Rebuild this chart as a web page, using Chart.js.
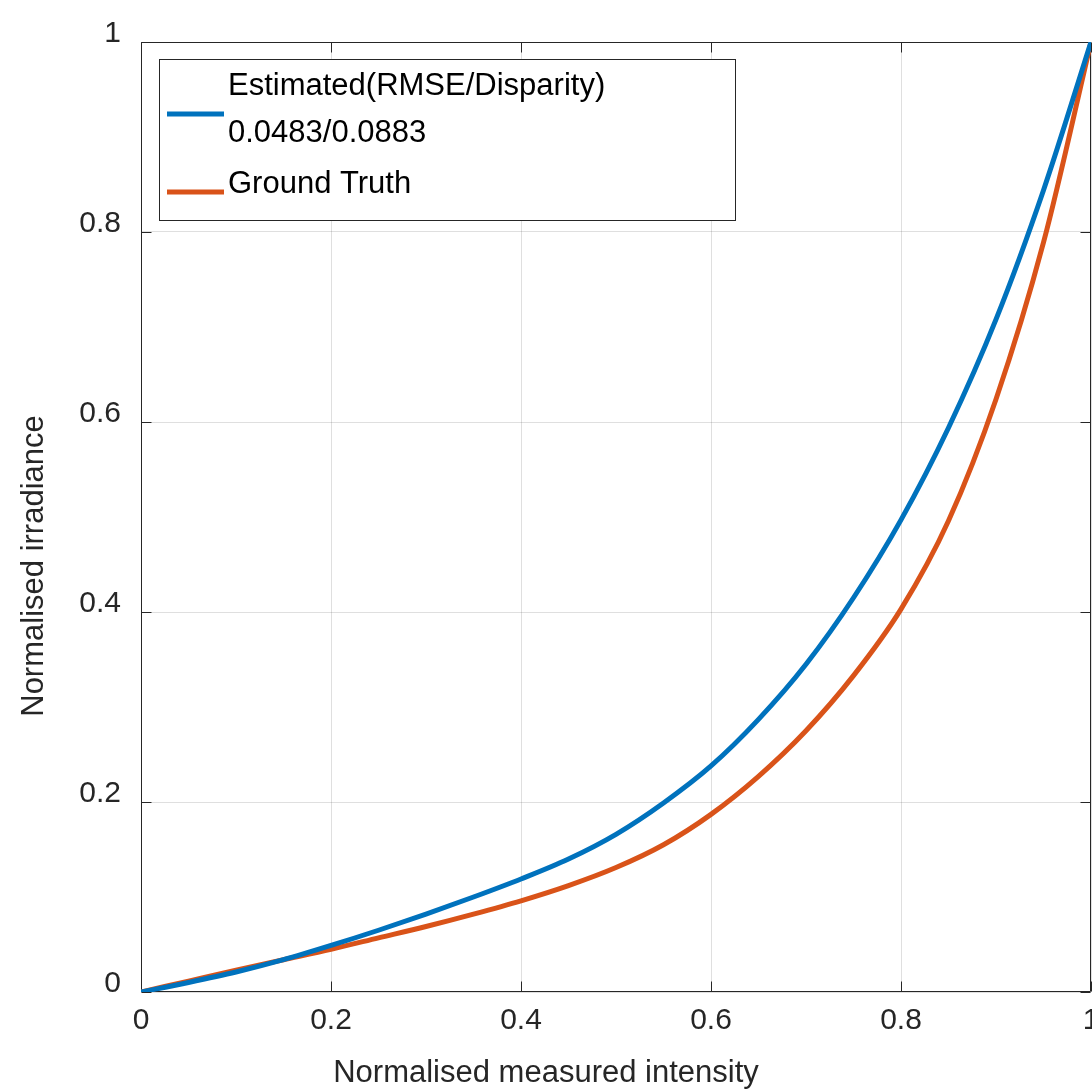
<!DOCTYPE html>
<html>
<head>
<meta charset="utf-8">
<script src="https://cdn.jsdelivr.net/npm/chart.js@4/dist/chart.umd.min.js"></script>
<style>
html,body{margin:0;padding:0;background:#fff;}
canvas{display:block;}
</style>
</head>
<body>
<canvas id="c" width="1092" height="1090"></canvas>
<script>
// ---- data ----
const intensity = [0, 0.05, 0.10, 0.15, 0.20, 0.25, 0.30, 0.35, 0.40, 0.45, 0.50,
                   0.55, 0.60, 0.65, 0.70, 0.75, 0.80, 0.85, 0.90, 0.95, 1.00];
const estimated = [0, 0.010, 0.021, 0.034, 0.049, 0.065, 0.082, 0.100, 0.119, 0.140, 0.166,
                   0.199, 0.238, 0.287, 0.345, 0.415, 0.497, 0.594, 0.708, 0.844, 1];
const groundTruth = [0, 0.0115, 0.023, 0.034, 0.045, 0.057, 0.069, 0.082, 0.096, 0.112, 0.131,
                     0.155, 0.187, 0.227, 0.275, 0.333, 0.403, 0.496, 0.624, 0.789, 1];
const tickValues = [0, 0.2, 0.4, 0.6, 0.8, 1];
const tickLabels = ['0', '0.2', '0.4', '0.6', '0.8', '1'];
const seriesLabels = ['Estimated(RMSE/Disparity)\n0.0483/0.0883', 'Ground Truth'];
const seriesColors = ['#0072BD', '#D95319'];
const xTitle = 'Normalised measured intensity';
const yTitle = 'Normalised irradiance';

const FONT = '"Liberation Sans", Arial, Helvetica, sans-serif';
const AXIS_COLOR = '#262626';
const GRID_COLOR = 'rgba(38,38,38,0.15)';

function toPoints(ys) { return intensity.map((x, i) => ({x: x, y: ys[i]})); }

const setTicks = (scale) => { scale.ticks = tickValues.map(v => ({value: v})); };
const fmt = (value) => { const i = tickValues.indexOf(value); return i >= 0 ? tickLabels[i] : String(value); };

const frame = {
  id: 'frame',
  beforeDatasetsDraw(chart) {
    const {ctx, chartArea: a, scales} = chart;
    ctx.save();
    ctx.strokeStyle = AXIS_COLOR;
    ctx.lineWidth = 1;
    ctx.beginPath();
    const L = Math.round(a.left) + 0.5, R = Math.round(a.right) - 0.5;
    const T = Math.round(a.top) + 0.5, B = Math.round(a.bottom) - 0.5;
    ctx.rect(L, T, R - L, B - T);
    const tl = 10;
    tickValues.forEach(v => {
      const px = Math.round(scales.x.getPixelForValue(v)) + 0.5;
      ctx.moveTo(px, B); ctx.lineTo(px, B - tl);
      ctx.moveTo(px, T); ctx.lineTo(px, T + tl);
      const py = Math.round(scales.y.getPixelForValue(v)) + 0.5;
      ctx.moveTo(L, py); ctx.lineTo(L + tl, py);
      ctx.moveTo(R, py); ctx.lineTo(R - tl, py);
    });
    ctx.stroke();
    ctx.restore();
  },
  afterDraw(chart) {
    const {ctx} = chart;
    ctx.save();
    // axis titles
    ctx.fillStyle = AXIS_COLOR;
    ctx.font = '31px ' + FONT;
    ctx.textAlign = 'center';
    ctx.textBaseline = 'alphabetic';
    ctx.fillText(xTitle, 546, 1082);
    ctx.translate(43, 566);
    ctx.rotate(-Math.PI / 2);
    ctx.fillText(yTitle, 0, 0);
    ctx.restore();

    // legend
    ctx.save();
    const bx = 159.5, by = 59.5, bw = 576, bh = 161;
    ctx.fillStyle = '#ffffff';
    ctx.fillRect(bx, by, bw, bh);
    ctx.strokeStyle = AXIS_COLOR;
    ctx.lineWidth = 1;
    ctx.strokeRect(bx, by, bw, bh);
    const ds = chart.data.datasets;
    const lineY = [114, 192];
    const textY = [[95, 142], [193]];
    ctx.font = '31px ' + FONT;
    ctx.textAlign = 'left';
    ctx.textBaseline = 'alphabetic';
    ds.forEach((d, i) => {
      ctx.strokeStyle = d.borderColor;
      ctx.lineWidth = 5;
      ctx.beginPath();
      ctx.moveTo(167, lineY[i]);
      ctx.lineTo(224, lineY[i]);
      ctx.stroke();
      ctx.fillStyle = '#000000';
      d.label.split('\n').forEach((t, j) => ctx.fillText(t, 228, textY[i][j]));
    });
    ctx.restore();
  }
};

new Chart(document.getElementById('c'), {
  type: 'line',
  data: {
    datasets: [
      {label: seriesLabels[0], data: toPoints(estimated), borderColor: seriesColors[0],
       backgroundColor: seriesColors[0], borderWidth: 5, pointRadius: 0, fill: false,
       cubicInterpolationMode: 'monotone'},
      {label: seriesLabels[1], data: toPoints(groundTruth), borderColor: seriesColors[1],
       backgroundColor: seriesColors[1], borderWidth: 5, pointRadius: 0, fill: false,
       cubicInterpolationMode: 'monotone'}
    ]
  },
  options: {
    responsive: false,
    animation: false,
    devicePixelRatio: 1,
    layout: {padding: {top: 42, right: 1, left: 0, bottom: 0}},
    plugins: {legend: {display: false}, tooltip: {enabled: false}},
    scales: {
      x: {
        type: 'linear', min: 0, max: 1,
        afterBuildTicks: setTicks,
        afterFit: (s) => { s.height = 98; s.paddingLeft = 0; s.paddingRight = 0; },
        grid: {color: GRID_COLOR, drawTicks: false, lineWidth: 1},
        border: {display: false},
        ticks: {callback: fmt, color: AXIS_COLOR, font: {size: 30, family: FONT},
                padding: 11, maxRotation: 0, autoSkip: false}
      },
      y: {
        type: 'linear', min: 0, max: 1,
        afterBuildTicks: setTicks,
        afterFit: (s) => { s.width = 141; s.paddingTop = 0; s.paddingBottom = 0; },
        grid: {color: GRID_COLOR, drawTicks: false, lineWidth: 1},
        border: {display: false},
        ticks: {callback: fmt, color: AXIS_COLOR, font: {size: 30, family: FONT},
                padding: 20, labelOffset: -8, autoSkip: false}
      }
    }
  },
  plugins: [frame]
});
</script>
</body>
</html>
